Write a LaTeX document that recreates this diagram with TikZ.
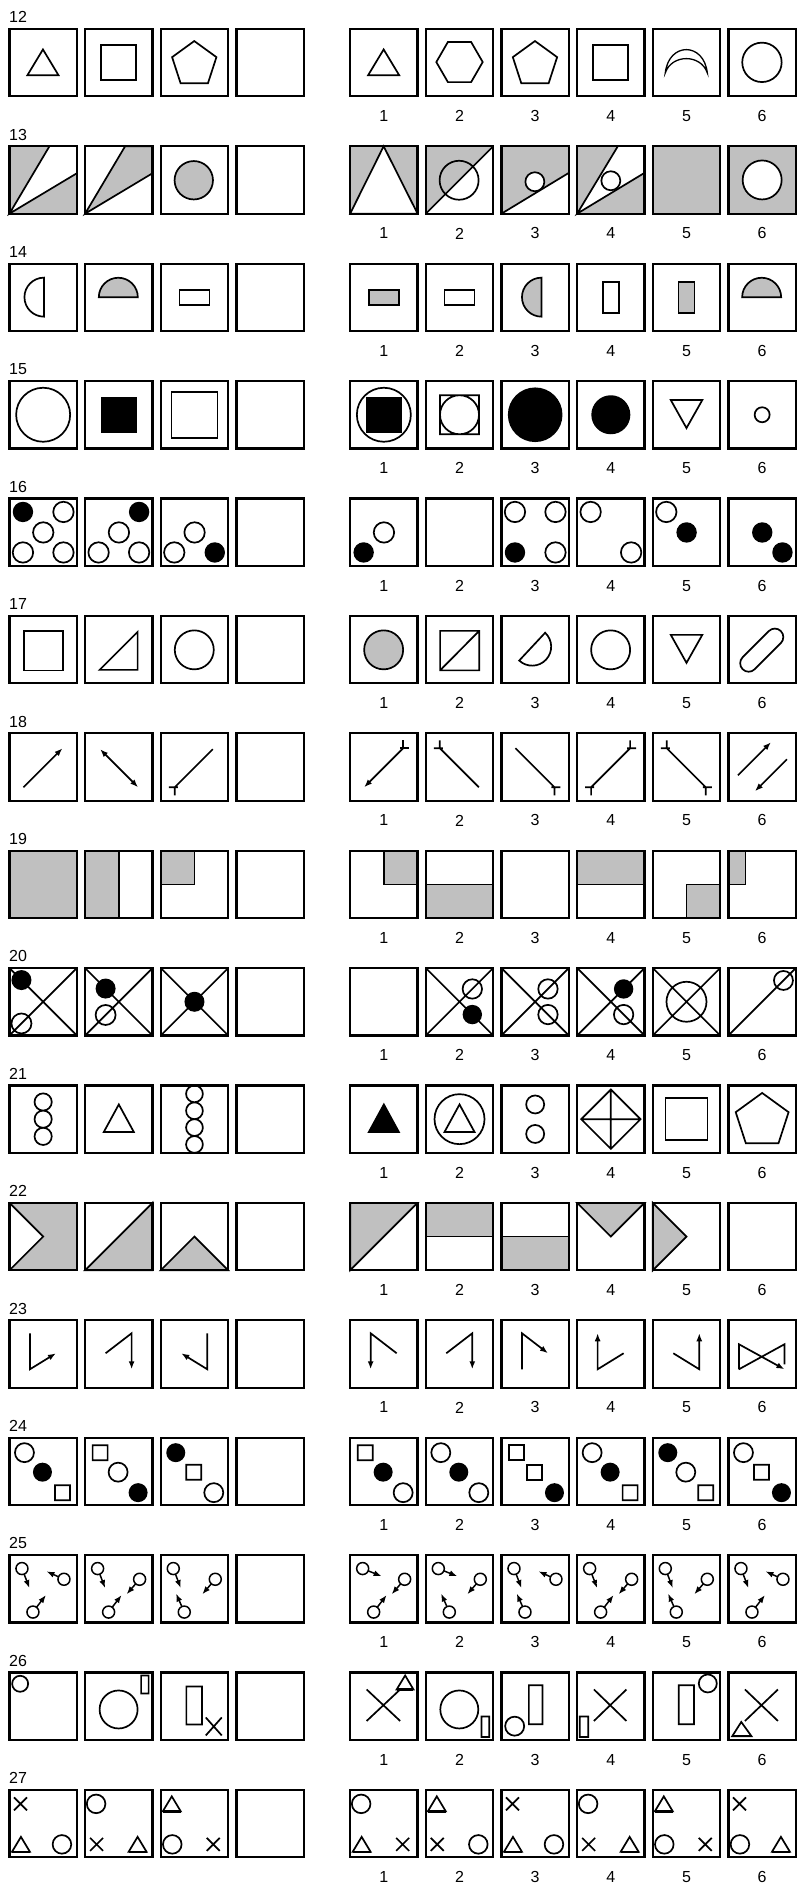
\documentclass[tikz,border=0pt]{standalone}
\usepackage{fontspec}
\setmainfont{Liberation Sans}
\usetikzlibrary{arrows.meta}
\definecolor{panelgray}{RGB}{192,192,192}
\newcommand*{\cellsize}{67.4}
\tikzset{
	qbox/.style 2 args={shift={({9.45+75.66*(#1-1)},{28.85+117.4*(#2-12)})}},
	abox/.style 2 args={shift={({350.15+75.66*(#1-1)},{28.85+117.4*(#2-12)})}}
}

\begin{document}
\begin{tikzpicture}
[
	x=1pt,y=-1pt,line width=1.7pt,
	>={Latex[length=8pt,width=6pt]},
	cellframe/.style={line width=2.2pt},
	rowlbl/.style={anchor=west,inner sep=0pt,font=\fontsize{16}{16}\selectfont},
	numlbl/.style={inner sep=0pt,font=\fontsize{16}{16}\selectfont}
]
	\useasboundingbox (0,0) rectangle (797,1885);

	% row 12
	\draw[qbox={1}{12}] (18,46.3) -- (33.5,20.6) -- (49,46.3) -- cycle;
	\draw[qbox={2}{12}] (16.2,16) rectangle (51.2,51);
	\draw[qbox={3}{12}] (33.5,35.5) +(-90:23.3) -- +(-18:23.3) -- +(54:23.3) -- +(126:23.3) -- +(198:23.3) -- cycle;
	\draw[abox={1}{12}] (18,46.3) -- (33.5,20.6) -- (49,46.3) -- cycle;
	\draw[abox={2}{12}] (33.7,33.2) +(0:23.2) -- +(60:23.2) -- +(120:23.2) -- +(180:23.2) -- +(240:23.2) -- +(300:23.2) -- cycle;
	\draw[abox={3}{12}] (33.5,35.5) +(-90:23.3) -- +(-18:23.3) -- +(54:23.3) -- +(126:23.3) -- +(198:23.3) -- cycle;
	\draw[abox={4}{12}] (16.2,16) rectangle (51.2,51);
	\draw[abox={5}{12},line width=1.3pt] (12.5,44) .. controls (16,13) and (51,13) .. (54.5,44) .. controls (48,25) and (19,25) .. (12.5,44) -- cycle;
	\draw[abox={6}{12}] (33.5,33.5) circle[radius=19.7];

	% row 13
	\fill[qbox={1}{13},panelgray] (0,0) rectangle (\cellsize,\cellsize);
	\fill[qbox={1}{13},white] (0,\cellsize) -- (40,0) -- (\cellsize,0) -- (\cellsize,27) -- cycle;
	\draw[qbox={1}{13}] (40,0) -- (0,\cellsize) -- (\cellsize,27);
	\filldraw[qbox={2}{13},fill=panelgray] (40,0) -- (0,\cellsize) -- (\cellsize,27) -- (\cellsize,0) -- cycle;
	\filldraw[qbox={3}{13},fill=panelgray] (33,34) circle[radius=19.2];
	\fill[abox={1}{13},panelgray] (0,0) rectangle (\cellsize,\cellsize);
	\filldraw[abox={1}{13},fill=white] (0,\cellsize) -- (33.5,0) -- (\cellsize,\cellsize) -- cycle;
	\fill[abox={2}{13},panelgray] (0,0) -- (\cellsize,0) -- (0,\cellsize) -- cycle;
	\draw[abox={2}{13}] (0,\cellsize) -- (\cellsize,0) (33.3,34) circle[radius=19.5];
	\fill[abox={3}{13},panelgray] (0,0) -- (\cellsize,0) -- (\cellsize,26.6) -- (0,\cellsize) -- cycle;
	\draw[abox={3}{13}] (0,\cellsize) -- (\cellsize,26.6);
	\filldraw[abox={3}{13},fill=white] (33.4,35.5) circle[radius=9.5];
	\fill[abox={4}{13},panelgray] (0,0) rectangle (\cellsize,\cellsize);
	\fill[abox={4}{13},white] (0,\cellsize) -- (40.7,0) -- (\cellsize,0) -- (\cellsize,26.6) -- cycle;
	\draw[abox={4}{13}] (40.7,0) -- (0,\cellsize) -- (\cellsize,26.6);
	\filldraw[abox={4}{13},fill=white] (33.7,34.5) circle[radius=9.5];
	\fill[abox={5}{13},panelgray] (0,0) rectangle (\cellsize,\cellsize);
	\fill[abox={6}{13},panelgray] (0,0) rectangle (\cellsize,\cellsize);
	\filldraw[abox={6}{13},fill=white] (33.7,33.7) circle[radius=19.5];

	% row 14
	\draw[qbox={1}{14}] (34.5,14) arc[start angle=-90,end angle=-270,radius=19.5] -- cycle;
	\filldraw[qbox={2}{14},fill=panelgray] (52.7,33.6) arc[start angle=0,end angle=-180,radius=19.5] -- cycle;
	\draw[qbox={3}{14}] (18.7,26.2) rectangle (48.7,41.2);
	\filldraw[abox={1}{14},fill=panelgray] (18.7,26.2) rectangle (48.7,41.2);
	\draw[abox={2}{14}] (18.7,26.2) rectangle (48.7,41.2);
	\filldraw[abox={3}{14},fill=panelgray] (40,14) arc[start angle=-90,end angle=-270,radius=19.5] -- cycle;
	\draw[abox={4}{14}] (25.7,18.2) rectangle (41.7,49.2);
	\filldraw[abox={5}{14},fill=panelgray] (25.7,18.2) rectangle (41.7,49.2);
	\filldraw[abox={6}{14},fill=panelgray] (52.7,33.6) arc[start angle=0,end angle=-180,radius=19.5] -- cycle;

	% row 15
	\draw[qbox={1}{15}] (33.7,33.7) circle[radius=27];
	\fill[qbox={2}{15}] (15.9,15.9) rectangle (51.5,51.5);
	\draw[qbox={3}{15}] (10.7,10.7) rectangle (56.7,56.7);
	\draw[abox={1}{15}] (33.7,33.7) circle[radius=27];
	\fill[abox={1}{15}] (15.9,15.9) rectangle (51.5,51.5);
	\draw[abox={2}{15}] (14.2,14.2) rectangle (53.2,53.2) (33.7,33.7) circle[radius=19.5];
	\fill[abox={3}{15}] (33.7,33.7) circle[radius=27.3];
	\fill[abox={4}{15}] (33.7,33.7) circle[radius=19.5];
	\draw[abox={5}{15}] (18,19) -- (49.5,19) -- (33.7,47) -- cycle;
	\draw[abox={6}{15}] (33.7,33.7) circle[radius=7.5];

	% row 16
	\fill[qbox={1}{16}] (13.5,13.5) circle[radius=10.2];
	\draw[qbox={1}{16}] (54,13.5) circle[radius=10.2] (33.8,34) circle[radius=10.2] (13.5,54) circle[radius=10.2] (54,54) circle[radius=10.2];
	\fill[qbox={2}{16}] (54,13.5) circle[radius=10.2];
	\draw[qbox={2}{16}] (33.8,34) circle[radius=10.2] (13.5,54) circle[radius=10.2] (54,54) circle[radius=10.2];
	\draw[qbox={3}{16}] (33.8,34) circle[radius=10.2] (13.5,54) circle[radius=10.2];
	\fill[qbox={3}{16}] (54,54) circle[radius=10.2];
	\draw[abox={1}{16}] (33.8,34) circle[radius=10.2];
	\fill[abox={1}{16}] (13.5,54) circle[radius=10.2];
	\draw[abox={3}{16}] (13.5,13.5) circle[radius=10.2] (54,13.5) circle[radius=10.2] (54,54) circle[radius=10.2];
	\fill[abox={3}{16}] (13.5,54) circle[radius=10.2];
	\draw[abox={4}{16}] (13.5,13.5) circle[radius=10.2] (54,54) circle[radius=10.2];
	\draw[abox={5}{16}] (13.5,13.5) circle[radius=10.2];
	\fill[abox={5}{16}] (33.8,34) circle[radius=10.2];
	\fill[abox={6}{16}] (33.8,34) circle[radius=10.2] (54,54) circle[radius=10.2];

	% row 17
	\draw[qbox={1}{17}] (14.3,15) rectangle (53.4,54.5);
	\draw[qbox={2}{17}] (14.5,54) -- (52.5,54) -- (52.5,16) -- cycle;
	\draw[qbox={3}{17}] (33.5,34) circle[radius=19.5];
	\filldraw[abox={1}{17},fill=panelgray] (33.5,34) circle[radius=19.5];
	\draw[abox={2}{17}] (14.3,15) rectangle (53.4,54.5) (14.3,54.5) -- (53.4,15);
	\draw[abox={3}{17}] (30.7,30.8) ++(-47:19) arc[start angle=-47,end angle=133,radius=19] -- cycle;
	\draw[abox={4}{17}] (33.5,34) circle[radius=19.5];
	\draw[abox={5}{17}] (18,19) -- (49.5,19) -- (33.7,47) -- cycle;
	\draw[abox={6}{17},shift={(33.3,34.3)},rotate=45,rounded corners=8.5pt] (-27,-8.5) rectangle (27,8.5);

	% row 18
	\draw[->,qbox={1}{18}] (14,54) -- (53,15);
	\draw[<->,qbox={2}{18}] (15,16) -- (53,54);
	\draw[qbox={3}{18}] (52,16) -- (14,54) (17,54) -- (8,54) (14,54) -- (14,62);
	\draw[->,abox={1}{18}] (53,15) -- (14,54);
	\draw[abox={1}{18}] (50,15) -- (59,15) (53,15) -- (53,7);
	\draw[abox={2}{18}] (14,15) -- (53,54) (17,15) -- (8,15) (14,15) -- (14,7);
	\draw[abox={3}{18}] (14,15) -- (53,54) (50,54) -- (59,54) (53,54) -- (53,62);
	\draw[abox={4}{18}] (14,54) -- (53,15) (17,54) -- (8,54) (14,54) -- (14,62) (50,15) -- (59,15) (53,15) -- (53,7);
	\draw[abox={5}{18}] (14,15) -- (53,54) (17,15) -- (8,15) (14,15) -- (14,7) (50,54) -- (59,54) (53,54) -- (53,62);
	\draw[->,abox={6}{18}] (9.5,42) -- (42.5,9);
	\draw[->,abox={6}{18}] (58.5,26) -- (26.5,58);

	% row 19
	\fill[qbox={1}{19},panelgray] (0,0) rectangle (\cellsize,\cellsize);
	\filldraw[qbox={2}{19},fill=panelgray] (0,0) rectangle (33.7,\cellsize);
	\filldraw[qbox={3}{19},fill=panelgray] (0,0) rectangle (33.7,33.7);
	\filldraw[abox={1}{19},fill=panelgray] (33.7,0) rectangle (\cellsize,33.7);
	\filldraw[abox={2}{19},fill=panelgray] (0,33.7) rectangle (\cellsize,\cellsize);
	\filldraw[abox={4}{19},fill=panelgray] (0,0) rectangle (\cellsize,33.7);
	\filldraw[abox={5}{19},fill=panelgray] (33.7,33.7) rectangle (\cellsize,\cellsize);
	\filldraw[abox={6}{19},fill=panelgray] (0,0) rectangle (17,33.7);

	% row 20
	\draw[qbox={1}{20}] (0,0) -- (\cellsize,\cellsize) (0,\cellsize) -- (\cellsize,0) (12,55.4) circle[radius=10];
	\fill[qbox={1}{20}] (12,12) circle[radius=10];
	\draw[qbox={2}{20}] (0,0) -- (\cellsize,\cellsize) (0,\cellsize) -- (\cellsize,0) (20.5,46.9) circle[radius=10];
	\fill[qbox={2}{20}] (20.5,20.5) circle[radius=10];
	\draw[qbox={3}{20}] (0,0) -- (\cellsize,\cellsize) (0,\cellsize) -- (\cellsize,0);
	\fill[qbox={3}{20}] (33.7,33.7) circle[radius=10];
	\draw[abox={2}{20}] (0,0) -- (\cellsize,\cellsize) (0,\cellsize) -- (\cellsize,0) (46.5,20.9) circle[radius=9.7];
	\fill[abox={2}{20}] (46.5,46.5) circle[radius=9.7];
	\draw[abox={3}{20}] (0,0) -- (\cellsize,\cellsize) (0,\cellsize) -- (\cellsize,0) (46.5,20.9) circle[radius=9.7] (46.5,46.5) circle[radius=9.7];
	\draw[abox={4}{20}] (0,0) -- (\cellsize,\cellsize) (0,\cellsize) -- (\cellsize,0) (46.5,46.5) circle[radius=9.7];
	\fill[abox={4}{20}] (46.5,20.9) circle[radius=9.7];
	\draw[abox={5}{20}] (0,0) -- (\cellsize,\cellsize) (0,\cellsize) -- (\cellsize,0) (33.7,33.7) circle[radius=20];
	\draw[abox={6}{20}] (0,\cellsize) -- (\cellsize,0) (55,12.4) circle[radius=9.5];

	% row 21
	\draw[qbox={1}{21}] (33.7,16.5) circle[radius=8.6] (33.7,33.7) circle[radius=8.6] (33.7,50.9) circle[radius=8.6];
	\draw[qbox={2}{21}] (18.7,46.5) -- (33.7,19) -- (48.7,46.5) -- cycle;
	\draw[qbox={3}{21}] (33.7,8.4) circle[radius=8.4] (33.7,25.3) circle[radius=8.4] (33.7,42.1) circle[radius=8.4] (33.7,59) circle[radius=8.4];
	\filldraw[abox={1}{21}] (18.7,46.5) -- (33.7,19) -- (48.7,46.5) -- cycle;
	\draw[abox={2}{21}] (33.7,33.7) circle[radius=25] (18.7,46.5) -- (33.7,19) -- (48.7,46.5) -- cycle;
	\draw[abox={3}{21}] (33.7,19) circle[radius=9] (33.7,48.5) circle[radius=9];
	\draw[abox={4}{21}] (33.7,4) -- (63.4,33.7) -- (33.7,63.4) -- (4,33.7) -- cycle (33.7,4) -- (33.7,63.4) (4,33.7) -- (63.4,33.7);
	\draw[abox={5}{21}] (12.7,12.7) rectangle (54.7,54.7);
	\draw[abox={6}{21}] (33.7,35.3) +(-90:27.8) -- +(-18:27.8) -- +(54:27.8) -- +(126:27.8) -- +(198:27.8) -- cycle;

	% row 22
	\fill[qbox={1}{22},panelgray] (0,0) -- (\cellsize,0) -- (\cellsize,\cellsize) -- (0,\cellsize) -- (33.7,33.7) -- cycle;
	\draw[qbox={1}{22}] (0,0) -- (33.7,33.7) -- (0,\cellsize);
	\filldraw[qbox={2}{22},fill=panelgray] (0,\cellsize) -- (\cellsize,0) -- (\cellsize,\cellsize) -- cycle;
	\filldraw[qbox={3}{22},fill=panelgray] (0,\cellsize) -- (33.7,33.7) -- (\cellsize,\cellsize) -- cycle;
	\filldraw[abox={1}{22},fill=panelgray] (0,0) -- (\cellsize,0) -- (0,\cellsize) -- cycle;
	\filldraw[abox={2}{22},fill=panelgray] (0,0) rectangle (\cellsize,33.7);
	\filldraw[abox={3}{22},fill=panelgray] (0,33.7) rectangle (\cellsize,\cellsize);
	\filldraw[abox={4}{22},fill=panelgray] (0,0) -- (33.7,33.7) -- (\cellsize,0) -- cycle;
	\filldraw[abox={5}{22},fill=panelgray] (0,0) -- (33.7,33.7) -- (0,\cellsize) -- cycle;

	% row 23
	\draw[->,qbox={1}{23}] (20.5,13) -- (20.5,49) -- (46.5,33);
	\draw[->,qbox={2}{23}] (20.5,33) -- (46.5,13) -- (46.5,49);
	\draw[->,qbox={3}{23}] (46.5,13) -- (46.5,49) -- (20.5,33);
	\draw[->,abox={1}{23}] (46.5,33) -- (20.5,13) -- (20.5,49);
	\draw[->,abox={2}{23}] (20.5,33) -- (46.5,13) -- (46.5,49);
	\draw[->,abox={3}{23}] (20.5,49) -- (20.5,13) -- (46.5,33);
	\draw[->,abox={4}{23}] (46.5,33) -- (20.5,49) -- (20.5,13);
	\draw[->,abox={5}{23}] (20.5,33) -- (46.5,49) -- (46.5,13);
	\draw[->,abox={6}{23}] (10.5,49) -- (10.5,24) -- (56,49);
	\draw[abox={6}{23}] (10.5,49) -- (56,24) -- (56,44);

	% row 24
	\draw[qbox={1}{24}] (15,15) circle[radius=9.5] (45.5,47.5) rectangle +(15,15);
	\fill[qbox={1}{24}] (33,34.5) circle[radius=9.5];
	\draw[qbox={2}{24}] (7.5,7.5) rectangle +(15,15) (33,34.5) circle[radius=9.5];
	\fill[qbox={2}{24}] (53,55) circle[radius=9.5];
	\fill[qbox={3}{24}] (15,15) circle[radius=9.5];
	\draw[qbox={3}{24}] (25.5,27) rectangle +(15,15) (53,55) circle[radius=9.5];
	\draw[abox={1}{24}] (7.5,7.5) rectangle +(15,15) (53,55) circle[radius=9.5];
	\fill[abox={1}{24}] (33,34.5) circle[radius=9.5];
	\draw[abox={2}{24}] (15,15) circle[radius=9.5] (53,55) circle[radius=9.5];
	\fill[abox={2}{24}] (33,34.5) circle[radius=9.5];
	\draw[abox={3}{24}] (7.5,7.5) rectangle +(15,15) (25.5,27) rectangle +(15,15);
	\fill[abox={3}{24}] (53,55) circle[radius=9.5];
	\draw[abox={4}{24}] (15,15) circle[radius=9.5] (45.5,47.5) rectangle +(15,15);
	\fill[abox={4}{24}] (33,34.5) circle[radius=9.5];
	\fill[abox={5}{24}] (15,15) circle[radius=9.5];
	\draw[abox={5}{24}] (33,34.5) circle[radius=9.5] (45.5,47.5) rectangle +(15,15);
	\draw[abox={6}{24}] (15,15) circle[radius=9.5] (25.5,27) rectangle +(15,15);
	\fill[abox={6}{24}] (53,55) circle[radius=9.5];

	% row 25
	\foreach \c in {1,2,3}
		\draw[qbox={\c}{25},line width=1.5pt] (12.5,13.5) circle[radius=6] (54.5,24.2) circle[radius=6] (23.5,57) circle[radius=6];
	\foreach \c in {1,...,6}
		\draw[abox={\c}{25},line width=1.5pt] (12.5,13.5) circle[radius=6] (54.5,24.2) circle[radius=6] (23.5,57) circle[radius=6];
	\draw[->,qbox={1}{25},line width=1.5pt] (14.7,19.1) -- (20,33);
	\draw[->,qbox={1}{25},line width=1.5pt] (49,21.7) -- (37,16.3);
	\draw[->,qbox={1}{25},line width=1.5pt] (27.1,52.2) -- (36.5,40);
	\draw[->,qbox={2}{25},line width=1.5pt] (14.7,19.1) -- (20,33);
	\draw[->,qbox={2}{25},line width=1.5pt] (50.6,28.7) -- (41.5,39.2);
	\draw[->,qbox={2}{25},line width=1.5pt] (27.1,52.2) -- (36.5,40);
	\draw[->,qbox={3}{25},line width=1.5pt] (14.7,19.1) -- (20,33);
	\draw[->,qbox={3}{25},line width=1.5pt] (50.6,28.7) -- (41.5,39.2);
	\draw[->,qbox={3}{25},line width=1.5pt] (21.1,51.5) -- (15.3,38.5);
	\draw[->,abox={1}{25},line width=1.5pt] (18.1,15.8) -- (31.5,21.2);
	\draw[->,abox={1}{25},line width=1.5pt] (50.6,28.7) -- (41.5,39.2);
	\draw[->,abox={1}{25},line width=1.5pt] (27.1,52.2) -- (36.5,40);
	\draw[->,abox={2}{25},line width=1.5pt] (18.1,15.8) -- (31.5,21.2);
	\draw[->,abox={2}{25},line width=1.5pt] (50.6,28.7) -- (41.5,39.2);
	\draw[->,abox={2}{25},line width=1.5pt] (21.1,51.5) -- (15.3,38.5);
	\draw[->,abox={3}{25},line width=1.5pt] (14.7,19.1) -- (20,33);
	\draw[->,abox={3}{25},line width=1.5pt] (49,21.7) -- (37,16.3);
	\draw[->,abox={3}{25},line width=1.5pt] (21.1,51.5) -- (15.3,38.5);
	\draw[->,abox={4}{25},line width=1.5pt] (14.7,19.1) -- (20,33);
	\draw[->,abox={4}{25},line width=1.5pt] (50.6,28.7) -- (41.5,39.2);
	\draw[->,abox={4}{25},line width=1.5pt] (27.1,52.2) -- (36.5,40);
	\draw[->,abox={5}{25},line width=1.5pt] (14.7,19.1) -- (20,33);
	\draw[->,abox={5}{25},line width=1.5pt] (50.6,28.7) -- (41.5,39.2);
	\draw[->,abox={5}{25},line width=1.5pt] (21.1,51.5) -- (15.3,38.5);
	\draw[->,abox={6}{25},line width=1.5pt] (14.7,19.1) -- (20,33);
	\draw[->,abox={6}{25},line width=1.5pt] (49,21.7) -- (37,16.3);
	\draw[->,abox={6}{25},line width=1.5pt] (27.1,52.2) -- (36.5,40);

	% row 26
	\draw[qbox={1}{26}] (10.7,11.3) circle[radius=8];
	\draw[qbox={2}{26}] (33.5,37) circle[radius=19] (56,3) rectangle (63.5,21);
	\draw[qbox={3}{26}] (25.6,14) rectangle (41.3,52) (45,45) -- (61,63) (45,63) -- (61,45);
	\draw[abox={1}{26}] (16.5,48.5) -- (50,17) (16.5,17) -- (50,48.5) (46.5,17) -- (55,3) -- (63.3,17) -- cycle;
	\draw[abox={1}{26},line width=2.6pt] (46.5,17) -- (63.3,17);
	\draw[abox={2}{26}] (33.5,37) circle[radius=19] (55.7,44) rectangle (63.4,64.5);
	\draw[abox={3}{26}] (27.4,12.7) rectangle (41.1,51.7) (13.2,53.7) circle[radius=9.5];
	\draw[abox={4}{26}] (2.6,44) rectangle (11.2,64.5) (16.8,17) -- (49.3,48.5) (16.8,48.5) -- (49.3,17);
	\draw[abox={5}{26}] (26,12.7) rectangle (41.3,51.7) (55,11) circle[radius=9];
	\draw[abox={6}{26}] (16.5,17) -- (49.5,48.5) (16.5,48.5) -- (49.5,17) (3.8,63.7) -- (12.8,49.5) -- (23,63.7) -- cycle;
	\draw[abox={6}{26},line width=2.6pt] (3.8,63.7) -- (23,63.7);

	% row 27
	\draw[qbox={1}{27}] (11,14) +(-6.5,-6.5) -- +(6.5,6.5) +(-6.5,6.5) -- +(6.5,-6.5) (11.5,54.5) +(-9,7.5) -- +(0,-7.5) -- +(9,7.5) -- cycle (52.5,54.5) circle[radius=9.3];
	\draw[qbox={1}{27},line width=2.6pt] (11.5,54.5) +(-9,7.5) -- +(9,7.5);
	\draw[qbox={2}{27}] (11,14) circle[radius=9.3] (11.5,54.5) +(-6.5,-6.5) -- +(6.5,6.5) +(-6.5,6.5) -- +(6.5,-6.5) (52.5,54.5) +(-9,7.5) -- +(0,-7.5) -- +(9,7.5) -- cycle;
	\draw[qbox={2}{27},line width=2.6pt] (52.5,54.5) +(-9,7.5) -- +(9,7.5);
	\draw[qbox={3}{27}] (11,14) +(-9,7.5) -- +(0,-7.5) -- +(9,7.5) -- cycle (11.5,54.5) circle[radius=9.3] (52.5,54.5) +(-6.5,-6.5) -- +(6.5,6.5) +(-6.5,6.5) -- +(6.5,-6.5);
	\draw[qbox={3}{27},line width=2.6pt] (11,14) +(-9,7.5) -- +(9,7.5);
	\draw[abox={1}{27}] (11,14) circle[radius=9.3] (11.5,54.5) +(-9,7.5) -- +(0,-7.5) -- +(9,7.5) -- cycle (52.5,54.5) +(-6.5,-6.5) -- +(6.5,6.5) +(-6.5,6.5) -- +(6.5,-6.5);
	\draw[abox={1}{27},line width=2.6pt] (11.5,54.5) +(-9,7.5) -- +(9,7.5);
	\draw[abox={2}{27}] (11,14) +(-9,7.5) -- +(0,-7.5) -- +(9,7.5) -- cycle (11.5,54.5) +(-6.5,-6.5) -- +(6.5,6.5) +(-6.5,6.5) -- +(6.5,-6.5) (52.5,54.5) circle[radius=9.3];
	\draw[abox={2}{27},line width=2.6pt] (11,14) +(-9,7.5) -- +(9,7.5);
	\draw[abox={3}{27}] (11,14) +(-6.5,-6.5) -- +(6.5,6.5) +(-6.5,6.5) -- +(6.5,-6.5) (11.5,54.5) +(-9,7.5) -- +(0,-7.5) -- +(9,7.5) -- cycle (52.5,54.5) circle[radius=9.3];
	\draw[abox={3}{27},line width=2.6pt] (11.5,54.5) +(-9,7.5) -- +(9,7.5);
	\draw[abox={4}{27}] (11,14) circle[radius=9.3] (11.5,54.5) +(-6.5,-6.5) -- +(6.5,6.5) +(-6.5,6.5) -- +(6.5,-6.5) (52.5,54.5) +(-9,7.5) -- +(0,-7.5) -- +(9,7.5) -- cycle;
	\draw[abox={4}{27},line width=2.6pt] (52.5,54.5) +(-9,7.5) -- +(9,7.5);
	\draw[abox={5}{27}] (11,14) +(-9,7.5) -- +(0,-7.5) -- +(9,7.5) -- cycle (11.5,54.5) circle[radius=9.3] (52.5,54.5) +(-6.5,-6.5) -- +(6.5,6.5) +(-6.5,6.5) -- +(6.5,-6.5);
	\draw[abox={5}{27},line width=2.6pt] (11,14) +(-9,7.5) -- +(9,7.5);
	\draw[abox={6}{27}] (11,14) +(-6.5,-6.5) -- +(6.5,6.5) +(-6.5,6.5) -- +(6.5,-6.5) (11.5,54.5) circle[radius=9.3] (52.5,54.5) +(-9,7.5) -- +(0,-7.5) -- +(9,7.5) -- cycle;
	\draw[abox={6}{27},line width=2.6pt] (52.5,54.5) +(-9,7.5) -- +(9,7.5);

	% frames and numbers
	\foreach \r in {12,...,27}{
		\node[rowlbl] (row\r) at (8.3,{28.85+117.4*(\r-12)-11.6}) {\r};
		\foreach \i in {1,...,4}
			\draw[cellframe,qbox={\i}{\r}] (0,0) rectangle (\cellsize,\cellsize);
		\foreach \j in {1,...,6}{
			\draw[cellframe,abox={\j}{\r}] (0,0) rectangle (\cellsize,\cellsize);
			\node[numlbl] (num\r-\j) at ({350.15+75.66*(\j-1)+33.7},{28.85+117.4*(\r-12)+87.2}) {\j};
		}
	}

\end{tikzpicture}
\end{document}
